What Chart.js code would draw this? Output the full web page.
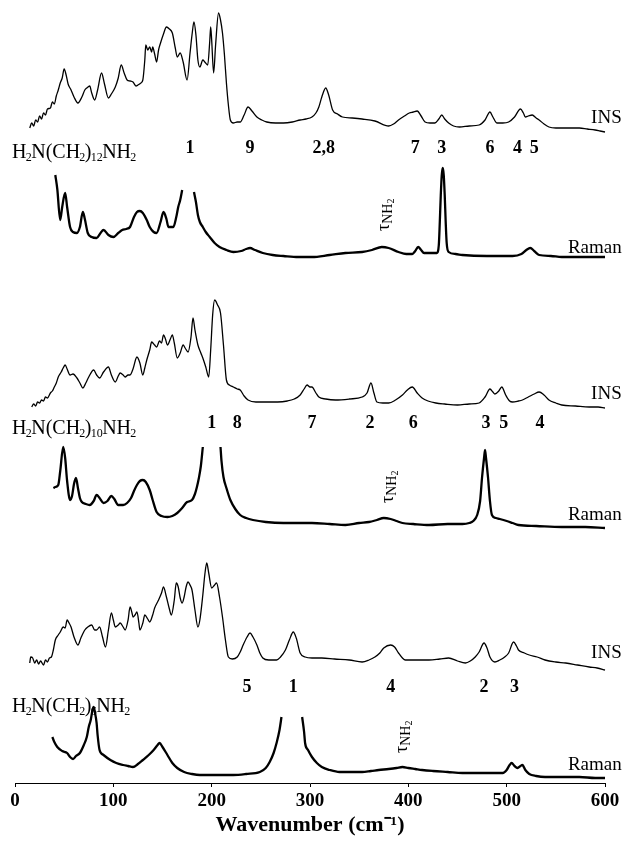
<!DOCTYPE html>
<html>
<head>
<meta charset="utf-8">
<script src="https://cdn.jsdelivr.net/npm/chart.js@4"></script>
<style>
  body { margin: 0; background: #fff; }
  canvas { display: block; }
</style>
</head>
<body>
<canvas id="spectra" width="624" height="848"></canvas>
<script>
// Spectra: [wavenumber (cm-1), intensity above own baseline]
// null = peak cut off in the original plot
const ins12 = [[15,2],[17,7],[19,4],[21,10],[23,8],[25,14],[27,11],[29,17],[31,15],[33,21],[36,22],[38,28],[40,26],[42,34],[44,40],[46,47],[48,52],[50,61],[52,55],[54,46],[57,40],[60,33],[64,27],[68,33],[71,40],[73,42],[76,44],[78,37],[81,30],[84,40],[88,57],[91,46],[95,32],[98,36],[102,43],[105,52],[108,65],[111,57],[114,50],[117,49],[120,48],[123,44],[125,45],[128,47],[130,50],[132,70],[133,85],[135,80],[137,83],[139,78],[140,83],[142,76],[144,68],[146,80],[148,87],[151,96],[154,103],[157,101],[160,97],[163,82],[165,73],[168,77],[171,68],[175,50],[178,77],[180,95],[182,108],[184,95],[186,70],[188,63],[191,70],[193,68],[196,65],[198,88],[199,103],[200,90],[202,57],[204,85],[207,117],[209,110],[211,97],[213,75],[215,47],[217,25],[219,10],[222,7],[226,8],[229,8],[233,15],[237,23],[241,19],[246,13],[251,10],[256,8],[265,7],[273,7],[282,8],[290,10],[296,11],[302,13],[306,17],[309,23],[312,33],[316,42],[319,35],[323,20],[328,16],[333,13],[343,12],[353,11],[366,9],[380,4],[385,6],[390,10],[396,14],[401,17],[405,18],[409,19],[413,14],[417,8],[422,7],[427,7],[431,11],[434,15],[437,11],[441,7],[446,4],[452,3],[462,4],[472,5],[478,10],[483,18],[486,13],[490,7],[496,7],[502,8],[508,13],[514,21],[517,17],[519,13],[522,14],[526,15],[530,12],[533,10],[538,6],[543,3],[550,2],[556,2],[565,2],[574,2],[582,1],[590,0],[595,-1],[600,-2]];

const raman12 = [[41,82],[43,68],[46,37],[48,50],[51,64],[53,50],[56,30],[59,25],[63,24],[66,30],[69,45],[71,38],[74,24],[78,20],[83,19],[87,24],[90,27],[95,22],[100,20],[105,24],[109,27],[113,28],[117,30],[121,40],[124,45],[127,46],[130,44],[134,37],[137,30],[141,25],[144,24],[148,35],[151,45],[154,38],[156,30],[161,30],[164,40],[166,50],[168,57],[170,67],[176,null],[182,65],[184,55],[186,42],[188,35],[191,30],[194,25],[198,20],[203,14],[208,10],[215,7],[222,5],[230,6],[235,8],[239,9],[244,7],[252,4],[262,2],[273,1],[288,0],[302,0],[320,2],[336,4],[353,5],[363,7],[373,10],[380,9],[390,5],[398,3],[404,3],[407,6],[410,10],[413,7],[416,4],[422,4],[429,4],[431,12],[432,35],[433,62],[434,82],[435,89],[436,82],[437,62],[438,35],[439,14],[441,5],[448,3],[455,2],[480,1],[506,1],[515,3],[520,7],[524,9],[528,6],[533,2],[545,1],[556,0],[580,0],[600,0]];

const ins10 = [[17,-2],[19,1],[21,-1],[23,3],[25,2],[27,5],[29,4],[31,8],[33,7],[36,12],[38,14],[40,18],[42,22],[44,28],[47,33],[49,37],[51,40],[53,36],[56,30],[59,31],[63,27],[66,22],[69,17],[72,22],[75,28],[80,35],[83,30],[86,27],[90,33],[95,38],[98,30],[102,23],[105,29],[107,32],[110,30],[112,28],[115,30],[117,30],[120,36],[124,48],[127,42],[130,30],[132,37],[134,45],[137,55],[139,63],[142,60],[144,58],[147,64],[149,62],[151,70],[153,66],[155,60],[158,66],[160,70],[162,62],[165,47],[168,52],[171,60],[173,57],[176,53],[179,68],[181,87],[183,75],[186,60],[189,52],[191,47],[194,38],[197,28],[199,55],[201,90],[203,105],[206,100],[209,92],[212,60],[215,25],[218,20],[222,18],[226,16],[229,15],[233,9],[237,5],[245,3],[256,3],[267,3],[277,4],[284,6],[290,10],[294,16],[297,20],[300,18],[302,18],[306,12],[309,8],[316,6],[326,5],[340,6],[353,8],[358,12],[362,22],[365,12],[368,3],[374,2],[380,2],[387,5],[394,10],[399,15],[404,18],[409,12],[414,7],[420,4],[428,2],[437,1],[450,0],[462,1],[472,2],[478,8],[483,16],[486,13],[488,11],[492,14],[495,18],[499,10],[503,4],[506,3],[512,4],[516,5],[522,8],[528,11],[533,13],[538,10],[543,5],[550,2],[556,0],[570,-1],[584,-2],[593,-2],[600,-3]];

const raman10 = [[39,38],[41,39],[44,41],[46,55],[49,79],[51,68],[53,45],[56,26],[58,30],[60,42],[62,48],[64,38],[66,28],[68,24],[72,22],[76,21],[80,25],[83,31],[86,28],[90,23],[94,25],[98,30],[101,27],[105,21],[110,21],[114,23],[118,28],[121,35],[124,41],[127,45],[130,46],[133,44],[137,36],[140,26],[144,14],[149,10],[155,9],[160,10],[165,13],[170,18],[175,24],[180,26],[183,32],[185,39],[187,48],[189,60],[191,79],[196,null],[209,79],[210,65],[212,49],[215,38],[219,26],[224,17],[229,11],[235,8],[242,6],[255,4],[273,3],[290,3],[302,3],[320,2],[336,1],[350,3],[360,4],[368,6],[375,8],[382,7],[388,5],[394,3],[405,2],[421,1],[440,2],[455,2],[462,3],[466,5],[470,11],[473,25],[475,49],[477,68],[478,76],[479,68],[481,49],[483,25],[485,11],[489,8],[493,7],[500,5],[506,3],[512,1],[530,0],[556,-1],[580,-1],[600,-2]];

const ins6 = [[15,2],[16,8],[18,7],[20,2],[22,5],[24,1],[26,4],[29,0],[31,5],[33,3],[35,7],[37,8],[39,15],[41,25],[44,30],[46,33],[49,38],[51,37],[53,45],[55,42],[57,38],[60,28],[64,20],[67,27],[71,35],[74,38],[78,40],[81,35],[83,35],[86,38],[89,28],[92,18],[95,35],[98,52],[100,45],[102,38],[105,40],[107,42],[110,38],[112,35],[115,45],[117,58],[119,52],[120,48],[122,50],[124,53],[126,42],[127,35],[130,42],[132,50],[135,46],[137,43],[140,50],[142,57],[146,65],[149,72],[151,78],[154,68],[157,56],[159,50],[162,65],[164,82],[166,78],[168,67],[170,62],[172,68],[174,78],[176,83],[178,80],[180,75],[183,55],[186,38],[188,45],[191,70],[193,90],[195,102],[197,92],[200,77],[203,80],[205,82],[208,68],[211,48],[214,25],[217,8],[221,6],[226,8],[229,13],[232,20],[236,28],[239,32],[242,28],[246,20],[249,12],[252,7],[258,5],[266,5],[270,8],[275,15],[279,25],[283,33],[286,27],[290,12],[295,8],[302,7],[312,7],[325,6],[340,5],[353,3],[360,5],[366,8],[371,12],[375,17],[382,20],[386,18],[390,12],[394,7],[397,5],[410,5],[421,5],[432,6],[441,7],[450,4],[458,2],[463,4],[468,8],[472,13],[477,22],[480,17],[483,8],[488,3],[493,5],[498,8],[502,12],[507,23],[510,19],[512,15],[518,12],[523,10],[531,8],[539,5],[550,3],[560,2],[572,0],[584,-2],[592,-3],[600,-5]];

const raman6 = [[38,40],[40,35],[43,30],[48,26],[53,24],[56,20],[59,18],[62,21],[66,24],[70,32],[73,40],[75,50],[77,57],[79,68],[80,70],[81,66],[83,54],[84,42],[86,27],[90,22],[97,17],[103,14],[110,12],[115,11],[120,10],[125,13],[130,17],[136,22],[141,27],[145,32],[147,34],[150,30],[155,22],[160,14],[165,9],[172,5],[180,3],[188,2],[200,2],[210,2],[222,2],[235,3],[249,5],[255,9],[259,15],[263,24],[266,34],[269,47],[271,60],[281,null],[292,60],[294,45],[295,34],[298,27],[302,20],[307,14],[312,10],[320,7],[330,5],[340,5],[353,5],[362,6],[370,7],[380,8],[388,9],[394,10],[400,9],[407,8],[414,7],[425,6],[440,5],[455,4],[470,4],[485,4],[496,4],[500,7],[503,12],[505,14],[508,11],[511,9],[514,11],[516,12],[519,7],[523,3],[530,1],[539,0],[550,0],[574,0],[590,-1],[600,-1]];

// vertical stacking offsets of the six traces (chart units)
const seriesList = [ins12, raman12, ins10, raman10, ins6, raman6];
const seriesKind = ['INS', 'Raman', 'INS', 'Raman', 'INS', 'Raman'];
const offsets = [653, 526, 378, 257, 118, 6];

const xTicks = [0, 100, 200, 300, 400, 500, 600];

// mode assignments under each INS trace
const modes12 = [[178,'1'],[239,'9'],[314,'2,8'],[407,'7'],[434,'3'],[483,'6'],[511,'4'],[528,'5']];
const modes10 = [[200,'1'],[226,'8'],[302,'7'],[361,'2'],[405,'6'],[479,'3'],[497,'5'],[534,'4']];
const modes6 = [[236,'5'],[283,'1'],[382,'4'],[477,'2'],[508,'3']];
const chainLengths = ['12', '10', '6'];
const tauNH2Wn = [376, 380, 394];

const serif = '"Liberation Serif", "Times New Roman", serif';

const datasets = seriesList.map(function(s, i) {
    return {
        label: seriesKind[i],
        data: s.map(p => ({ x: p[0], y: p[1] === null ? null : offsets[i] + p[1] })),
        borderColor: '#000',
        borderWidth: seriesKind[i] === 'INS' ? 1.3 : 2.3,
        pointRadius: 0,
        cubicInterpolationMode: 'monotone',
        spanGaps: false,
        fill: false
    };
});

const labelsPlugin = {
    id: 'spectraLabels',
    afterDatasetsDraw(chart) {
        const ctx = chart.ctx;
        const xs = chart.scales.x, ys = chart.scales.y;
        const px = w => xs.getPixelForValue(w);
        const py = v => ys.getPixelForValue(v);
        ctx.save();
        ctx.fillStyle = '#000';

        // mode numbers
        ctx.font = 'bold 18px ' + serif;
        ctx.textAlign = 'center';
        ctx.textBaseline = 'middle';
        [[modes12, 635], [modes10, 360], [modes6, 96]].forEach(function(row) {
            row[0].forEach(m => ctx.fillText(m[1], px(m[0]), py(row[1])));
        });

        // INS / Raman tags at right end
        ctx.font = '19px ' + serif;
        ctx.textAlign = 'right';
        const tagY = [665, 535, 389, 268, 130, 18];
        seriesKind.forEach((k, i) => ctx.fillText(k, px(617), py(tagY[i])));

        // compound names with subscripts
        const nameY = [632, 356, 78];
        chainLengths.forEach(function(n, i) {
            const parts = [['H', 0], ['2', 1], ['N(CH', 0], ['2', 1], [')', 0], [n, 1], ['NH', 0], ['2', 1]];
            let x = px(-3);
            const y = py(nameY[i]);
            ctx.textAlign = 'left';
            ctx.textBaseline = 'alphabetic';
            parts.forEach(function(p) {
                ctx.font = (p[1] ? '12px ' : '20px ') + serif;
                ctx.fillText(p[0], x, y + 7 + (p[1] ? 3 : 0));
                x += ctx.measureText(p[0]).width - (p[1] ? 0.5 : 0.8);
            });
        });

        // rotated tau_NH2 labels
        const tauY = [570, 298, 48];
        tauNH2Wn.forEach(function(w, i) {
            ctx.save();
            ctx.translate(px(w), py(tauY[i]));
            ctx.rotate(-Math.PI / 2);
            ctx.textAlign = 'left';
            ctx.textBaseline = 'middle';
            ctx.font = '18px ' + serif;
            let x = -18;
            ctx.fillText('\u03C4', x, 0);
            x += ctx.measureText('\u03C4').width;
            ctx.font = '14px ' + serif;
            ctx.fillText('NH', x, 4);
            x += ctx.measureText('NH').width;
            ctx.font = '10px ' + serif;
            ctx.fillText('2', x, 7);
            ctx.restore();
        });
        ctx.restore();
    }
};

new Chart(document.getElementById('spectra'), {
    type: 'line',
    data: { datasets: datasets },
    options: {
        responsive: false,
        animation: false,
        clip: false,
        layout: { padding: { left: 15, right: 19, top: 0, bottom: 0 } },
        plugins: { legend: { display: false }, tooltip: { enabled: false } },
        scales: {
            x: {
                type: 'linear',
                min: 0,
                max: 600,
                afterBuildTicks: scale => { scale.ticks = xTicks.map(v => ({ value: v })); },
                afterFit: scale => { scale.height = 65; },
                border: { display: true, color: '#000', width: 1 },
                grid: { drawOnChartArea: false, drawTicks: true, tickLength: 4, tickColor: '#000' },
                ticks: {
                    color: '#000',
                    padding: 3,
                    maxRotation: 0,
                    font: { family: serif, size: 19, weight: 'bold' }
                },
                title: {
                    display: true,
                    text: 'Wavenumber (cm\u207B\u00B9)',
                    color: '#000',
                    padding: { top: 0, bottom: 9 },
                    font: { family: serif, size: 22, weight: 'bold' }
                }
            },
            y: {
                display: false,
                min: 0,
                max: 783
            }
        }
    },
    plugins: [labelsPlugin]
});
</script>
</body>
</html>
